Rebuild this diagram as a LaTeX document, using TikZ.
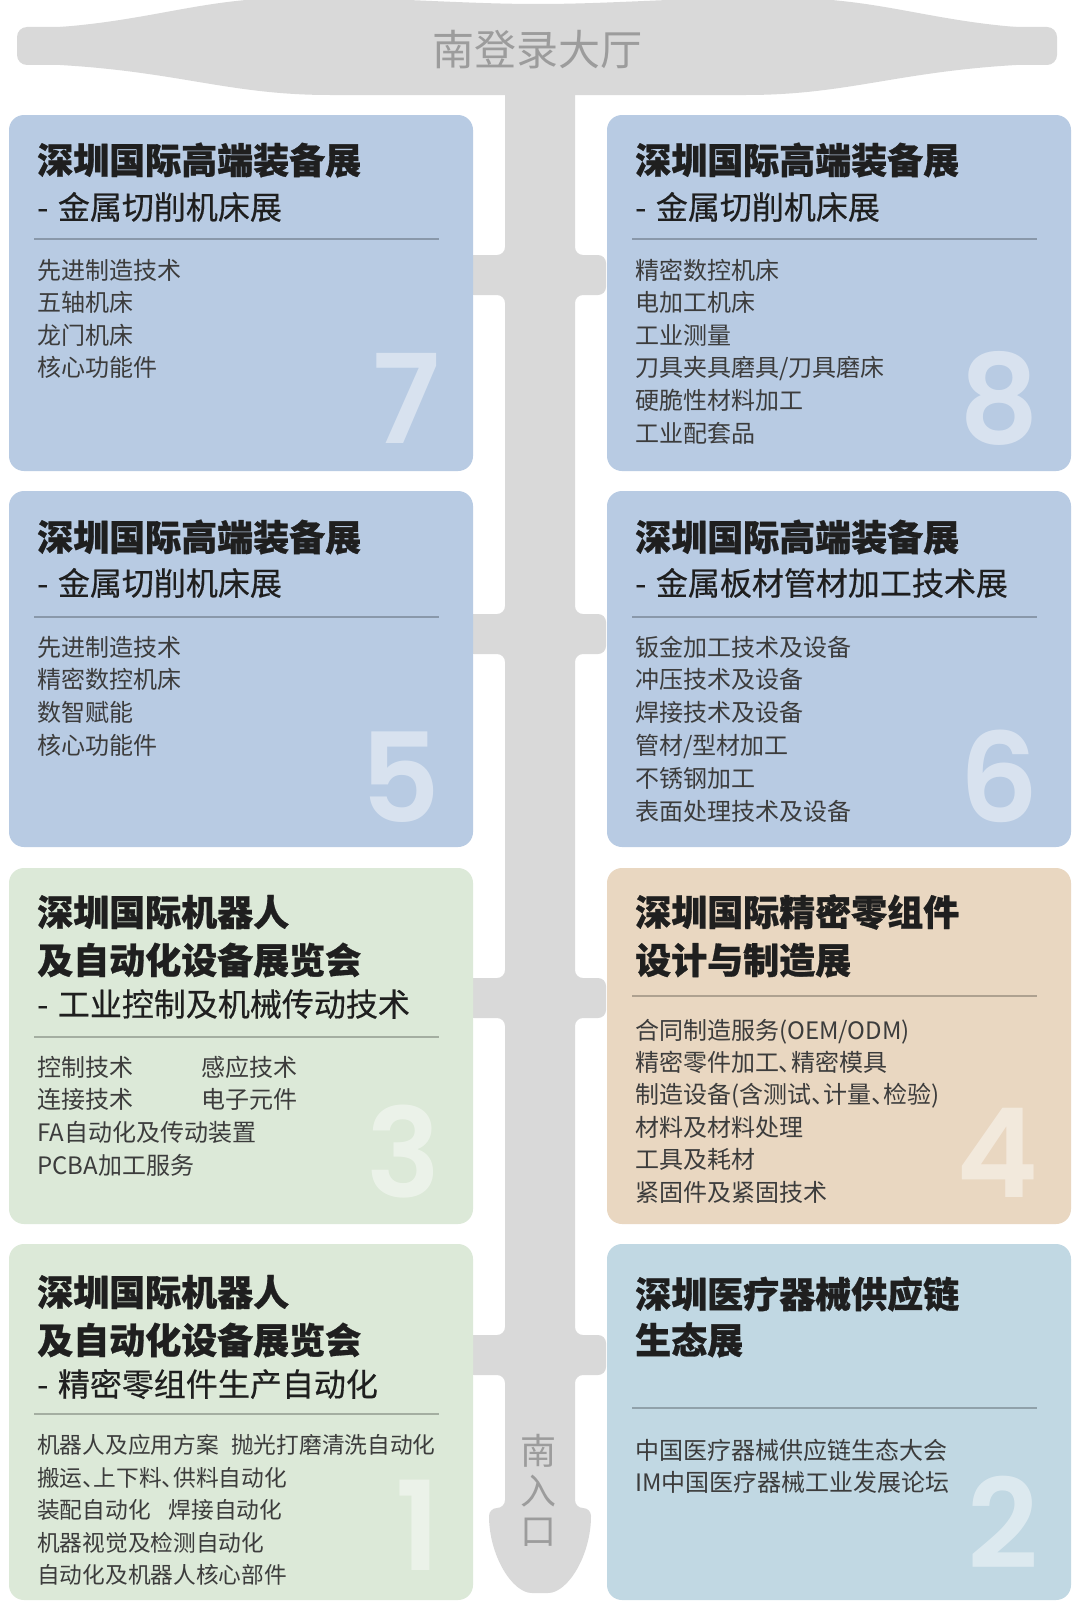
\documentclass[tikz,border=0pt]{standalone}
\usepackage{fontspec}
\setmainfont{Noto Sans CJK SC}[RawFeature={+palt}, BoldFeatures={FakeBold=0.8}]
\newfontfamily\subfont{Noto Sans CJK SC}[FakeBold=0.4]
\newfontfamily\numfont{Poppins}[UprightFont={* SemiBold}]
\definecolor{corr}{HTML}{D9D9D9}
\definecolor{hallc}{HTML}{9C9C9C}
\definecolor{boxblue}{HTML}{B8CBE3}
\definecolor{boxgreen}{HTML}{DCE9D8}
\definecolor{boxtan}{HTML}{E9D7C1}
\definecolor{boxsky}{HTML}{C1D8E3}
\definecolor{titlec}{HTML}{1F1F1F}
\definecolor{itemc}{HTML}{3C3C3C}
\tikzset{
  exbox/.style={rounded corners=15pt},
  ttl/.style={anchor=base west, inner sep=0pt, font=\fontsize{36}{36}\selectfont\bfseries, text=titlec},
  subt/.style={anchor=base west, inner sep=0pt, font=\subfont\fontsize{32}{32}\selectfont, text=titlec},
  itm/.style={anchor=base west, inner sep=0pt, font=\fontsize{24}{24}\selectfont, text=itemc},
  itms/.style={anchor=base west, inner sep=0pt, font=\fontsize{22.7}{22.7}\selectfont, text=itemc},
  bignum/.style={anchor=base east, inner sep=0pt, font=\numfont\fontsize{124}{124}\selectfont, text=white, text opacity=0.45},
  divl/.style={draw=black, draw opacity=0.25, line width=1.5pt},
  hallt/.style={inner sep=0pt, font=\fontsize{42}{42}\selectfont, text=hallc},
  entt/.style={inner sep=0pt, align=center, font=\fontsize{36}{40}\selectfont, text=hallc},
}
\begin{document}
\begin{tikzpicture}[x=1pt,y=-1pt]
\useasboundingbox (0,0) rectangle (1080,1603);
\fill[white] (0,0) rectangle (1080,1603);
\begin{scope}
\clip (0,0) rectangle (1080,1603);
% corridor with stubs and entrance
\fill[corr, rounded corners=8pt]
 (505,80) -- (505,255) -- (466,255) -- (466,295) -- (505,295)
 -- (505,614) -- (466,614) -- (466,654) -- (505,654)
 -- (505,978) -- (466,978) -- (466,1018) -- (505,1018)
 -- (505,1335) -- (466,1335) -- (466,1375) -- (505,1375)
 -- (505,1508) -- (489,1508)
 .. controls (489,1555) and (512,1593) .. (540,1593)
 .. controls (568,1593) and (591,1555) .. (591,1508)
 -- (575,1508) -- (575,1375) -- (606,1375) -- (606,1335) -- (575,1335)
 -- (575,1018) -- (606,1018) -- (606,978) -- (575,978)
 -- (575,654) -- (606,654) -- (606,614) -- (575,614)
 -- (575,295) -- (606,295) -- (606,255) -- (575,255)
 -- (575,80) -- cycle;
% hall
\fill[corr, rounded corners=10pt] (17,27) rectangle (1057,65);
\fill[corr] (60,65) .. controls (180,72) and (230,95) .. (330,95) -- (746,95)
 .. controls (846,95) and (896,72) .. (1016,65) -- (1016,27)
 .. controls (930,20) and (880,0) .. (796,-2)
 .. controls (700,-4) and (620,4) .. (538,4)
 .. controls (456,4) and (376,-4) .. (280,-2)
 .. controls (200,0) and (150,20) .. (60,27) -- cycle;
\end{scope}
\node[hallt, anchor=base] (hall) at (537,66) {南登录大厅};
\node[entt] (entr) at (538,1490) {南\\入\\口};

% ---- Box 7 ----
\begin{scope}[shift={(9,115)}]
\fill[boxblue, exbox] (0,0) rectangle (464,356);
\node[bignum] (n7) at (432,328) {7};
\node[ttl] (t7) at (28,58.7) {深圳国际高端装备展};
\node[subt] (s7) at (28,104.2) {-\hspace{0.3em}金属切削机床展};
\draw[divl] (25,124) -- (430,124);
\node[itm] (i7a) at (28,164) {先进制造技术};
\node[itm] (i7b) at (28,196.6) {五轴机床};
\node[itm] (i7c) at (28,229.2) {龙门机床};
\node[itm] (i7d) at (28,261.8) {核心功能件};
\end{scope}

% ---- Box 8 ----
\begin{scope}[shift={(607,115)}]
\fill[boxblue, exbox] (0,0) rectangle (464,356);
\node[bignum] (n8) at (432,328) {8};
\node[ttl] (t8) at (28,58.7) {深圳国际高端装备展};
\node[subt] (s8) at (28,104.2) {-\hspace{0.3em}金属切削机床展};
\draw[divl] (25,124) -- (430,124);
\node[itm] (i8a) at (28,164) {精密数控机床};
\node[itm] (i8b) at (28,196.6) {电加工机床};
\node[itm] (i8c) at (28,229.2) {工业测量};
\node[itm] (i8d) at (28,261.8) {刀具夹具磨具/刀具磨床};
\node[itm] (i8e) at (28,294.4) {硬脆性材料加工};
\node[itm] (i8f) at (28,327) {工业配套品};
\end{scope}

% ---- Box 5 ----
\begin{scope}[shift={(9,491)}]
\fill[boxblue, exbox] (0,0) rectangle (464,356);
\node[bignum] (n5) at (432,331) {5};
\node[ttl] (t5) at (28,59.7) {深圳国际高端装备展};
\node[subt] (s5) at (28,104.2) {-\hspace{0.3em}金属切削机床展};
\draw[divl] (25,126) -- (430,126);
\node[itm] (i5a) at (28,165) {先进制造技术};
\node[itm] (i5b) at (28,197.8) {精密数控机床};
\node[itm] (i5c) at (28,230.6) {数智赋能};
\node[itm] (i5d) at (28,263.4) {核心功能件};
\end{scope}

% ---- Box 6 ----
\begin{scope}[shift={(607,491)}]
\fill[boxblue, exbox] (0,0) rectangle (464,356);
\node[bignum] (n6) at (432,331) {6};
\node[ttl] (t6) at (28,59.7) {深圳国际高端装备展};
\node[subt] (s6) at (28,104.2) {-\hspace{0.3em}金属板材管材加工技术展};
\draw[divl] (25,126) -- (430,126);
\node[itm] (i6a) at (28,165) {钣金加工技术及设备};
\node[itm] (i6b) at (28,197.8) {冲压技术及设备};
\node[itm] (i6c) at (28,230.6) {焊接技术及设备};
\node[itm] (i6d) at (28,263.4) {管材/型材加工};
\node[itm] (i6e) at (28,296.2) {不锈钢加工};
\node[itm] (i6f) at (28,329) {表面处理技术及设备};
\end{scope}

% ---- Box 3 ----
\begin{scope}[shift={(9,868)}]
\fill[boxgreen, exbox] (0,0) rectangle (464,356);
\node[bignum] (n3) at (432,329) {3};
\node[ttl] (t3a) at (28,57.7) {深圳国际机器人};
\node[ttl] (t3b) at (28,105.7) {及自动化设备展览会};
\node[subt] (s3) at (28,148.2) {-\hspace{0.3em}工业控制及机械传动技术};
\draw[divl] (25,169) -- (430,169);
\node[itm] (i3a) at (28,208) {控制技术};
\node[itm] (i3b) at (192,208) {感应技术};
\node[itm] (i3c) at (28,240.7) {连接技术};
\node[itm] (i3d) at (192,240.7) {电子元件};
\node[itm] (i3e) at (28,273.4) {FA自动化及传动装置};
\node[itm] (i3f) at (28,306.1) {PCBA加工服务};
\end{scope}

% ---- Box 4 ----
\begin{scope}[shift={(607,868)}]
\fill[boxtan, exbox] (0,0) rectangle (464,356);
\node[bignum] (n4) at (432,329) {4};
\node[ttl] (t4a) at (28,57.7) {深圳国际精密零组件};
\node[ttl] (t4b) at (28,105.7) {设计与制造展};
\draw[divl] (25,128) -- (430,128);
\node[itm] (i4a) at (28,171) {合同制造服务(OEM/ODM)};
\node[itm] (i4b) at (28,203.4) {精密零件加工、精密模具};
\node[itm] (i4c) at (28,235.8) {制造设备(含测试、计量、检验)};
\node[itm] (i4d) at (28,268.2) {材料及材料处理};
\node[itm] (i4e) at (28,300.6) {工具及耗材};
\node[itm] (i4f) at (28,333) {紧固件及紧固技术};
\end{scope}

% ---- Box 1 ----
\begin{scope}[shift={(9,1244)}]
\fill[boxgreen, exbox] (0,0) rectangle (464,356);
\node[bignum] (n1) at (432,326) {1};
\node[ttl] (t1a) at (28,61.7) {深圳国际机器人};
\node[ttl] (t1b) at (28,109.7) {及自动化设备展览会};
\node[subt] (s1) at (28,152.2) {-\hspace{0.3em}精密零组件生产自动化};
\draw[divl] (25,170) -- (430,170);
\node[itms] (i1a) at (28,209.6) {机器人及应用方案\hspace{0.55em}抛光打磨清洗自动化};
\node[itms] (i1b) at (28,242.1) {搬运、上下料、供料自动化};
\node[itms] (i1c) at (28,274.6) {装配自动化\hspace{0.8em}焊接自动化};
\node[itms] (i1d) at (28,307.1) {机器视觉及检测自动化};
\node[itms] (i1e) at (28,339.6) {自动化及机器人核心部件};
\end{scope}

% ---- Box 2 ----
\begin{scope}[shift={(607,1244)}]
\fill[boxsky, exbox] (0,0) rectangle (464,356);
\node[bignum] (n2) at (432,324) {2};
\node[ttl] (t2a) at (28,63.7) {深圳医疗器械供应链};
\node[ttl] (t2b) at (28,109.7) {生态展};
\draw[divl] (25,164) -- (430,164);
\node[itm] (i2a) at (28,215) {中国医疗器械供应链生态大会};
\node[itm] (i2b) at (28,247) {IM中国医疗器械工业发展论坛};
\end{scope}
\end{tikzpicture}
\end{document}
